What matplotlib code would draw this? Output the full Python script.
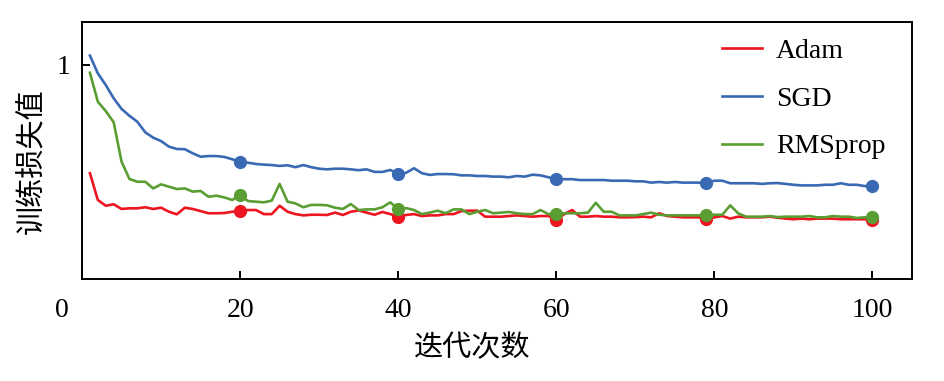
import numpy as np
import matplotlib
matplotlib.use('Agg')
import matplotlib.pyplot as plt
import matplotlib.transforms as mtransforms

plt.rcParams['font.family'] = ['Liberation Serif', 'Noto Sans CJK SC']

iters = np.arange(1, 101)

adam = [0.494, 0.369, 0.342, 0.349, 0.327, 0.330, 0.330, 0.335, 0.327, 0.333,
        0.314, 0.302, 0.333, 0.327, 0.317, 0.307, 0.307, 0.308, 0.314, 0.317,
        0.322, 0.322, 0.303, 0.303, 0.342, 0.314, 0.303, 0.297, 0.300, 0.300,
        0.299, 0.310, 0.299, 0.314, 0.320, 0.310, 0.300, 0.313, 0.303, 0.291,
        0.299, 0.303, 0.294, 0.297, 0.297, 0.303, 0.303, 0.317, 0.319, 0.319,
        0.291, 0.291, 0.291, 0.294, 0.297, 0.294, 0.291, 0.294, 0.294, 0.275,
        0.303, 0.322, 0.291, 0.291, 0.294, 0.291, 0.291, 0.288, 0.288, 0.289,
        0.291, 0.288, 0.307, 0.294, 0.291, 0.288, 0.288, 0.288, 0.279, 0.288,
        0.294, 0.282, 0.291, 0.288, 0.288, 0.288, 0.291, 0.286, 0.282, 0.279,
        0.282, 0.279, 0.282, 0.282, 0.282, 0.279, 0.279, 0.279, 0.279, 0.275]

sgd = [1.043, 0.960, 0.906, 0.844, 0.794, 0.762, 0.734, 0.685, 0.660, 0.644,
       0.618, 0.607, 0.606, 0.587, 0.571, 0.574, 0.574, 0.570, 0.559, 0.546,
       0.543, 0.537, 0.534, 0.532, 0.528, 0.531, 0.522, 0.532, 0.522, 0.515,
       0.512, 0.515, 0.515, 0.512, 0.508, 0.512, 0.500, 0.500, 0.509, 0.492,
       0.496, 0.517, 0.494, 0.486, 0.490, 0.490, 0.489, 0.484, 0.484, 0.481,
       0.481, 0.478, 0.478, 0.475, 0.481, 0.478, 0.487, 0.484, 0.475, 0.466,
       0.466, 0.466, 0.462, 0.462, 0.462, 0.462, 0.459, 0.459, 0.459, 0.456,
       0.456, 0.450, 0.453, 0.450, 0.453, 0.450, 0.450, 0.450, 0.447, 0.459,
       0.459, 0.447, 0.447, 0.447, 0.447, 0.444, 0.447, 0.448, 0.444, 0.440,
       0.437, 0.437, 0.437, 0.440, 0.440, 0.447, 0.440, 0.440, 0.434, 0.434]

rmsprop = [0.963, 0.828, 0.784, 0.732, 0.548, 0.467, 0.454, 0.454, 0.423, 0.442,
           0.431, 0.420, 0.423, 0.408, 0.411, 0.384, 0.389, 0.381, 0.369, 0.392,
           0.364, 0.361, 0.358, 0.366, 0.444, 0.361, 0.353, 0.335, 0.346, 0.346,
           0.344, 0.333, 0.327, 0.350, 0.322, 0.325, 0.325, 0.335, 0.358, 0.325,
           0.331, 0.322, 0.303, 0.310, 0.319, 0.307, 0.325, 0.325, 0.303, 0.314,
           0.322, 0.307, 0.310, 0.313, 0.307, 0.303, 0.303, 0.322, 0.303, 0.303,
           0.307, 0.307, 0.307, 0.310, 0.356, 0.314, 0.314, 0.297, 0.297, 0.297,
           0.303, 0.310, 0.300, 0.297, 0.297, 0.297, 0.297, 0.297, 0.297, 0.300,
           0.300, 0.344, 0.307, 0.291, 0.291, 0.291, 0.294, 0.289, 0.291, 0.291,
           0.291, 0.294, 0.288, 0.288, 0.294, 0.291, 0.291, 0.285, 0.288, 0.288]

names = ['Adam', 'SGD', 'RMSprop']
colors = ['#ec1520', '#3a69b4', '#5a9e33']
marker_idx = [19, 39, 59, 78, 99]

fig = plt.figure(figsize=(9.45, 3.81), dpi=100)
ax = fig.add_axes([0.0868, 0.2677, 0.8783, 0.6746])

for ys, name, c in zip([adam, sgd, rmsprop], names, colors):
    ys = np.array(ys)
    ax.plot(iters, ys, color=c, lw=1.9, label=name)
    ax.plot(iters[marker_idx], ys[marker_idx], 'o', color=c, ms=8.5)

ax.set_xlim(0, 105)
ax.set_ylim(0, 1.2)
ax.set_xticks([0, 20, 40, 60, 80, 100])
ax.set_yticks([1])
ax.set_yticklabels(['1'])
ax.tick_params(direction='in', length=6, width=1.4, labelsize=20)
ax.tick_params(axis='x', pad=14)
ax.tick_params(axis='y', pad=8)
for s in ax.spines.values():
    s.set_linewidth(1.4)

# the "0" label sits left of the spine in the original
lab0 = ax.get_xticklabels()[0]
lab0.set_transform(lab0.get_transform() + mtransforms.ScaledTranslation(-0.2, 0, fig.dpi_scale_trans))

ax.set_xlabel('迭代次数', fontsize=21, family=['Noto Sans CJK SC'])
ax.set_ylabel('训练损失值', fontsize=21, family=['Noto Sans CJK SC'])
ax.xaxis.set_label_coords(0.47, -0.212)
ax.yaxis.set_label_coords(-0.042, 0.457)

ax.legend(loc='upper left', frameon=False, fontsize=20, handlelength=1.45,
          handletextpad=0.5, labelspacing=0.8, borderpad=0, borderaxespad=0,
          bbox_to_anchor=(0.771, 0.935))

fig.savefig('out.png', dpi=100)
